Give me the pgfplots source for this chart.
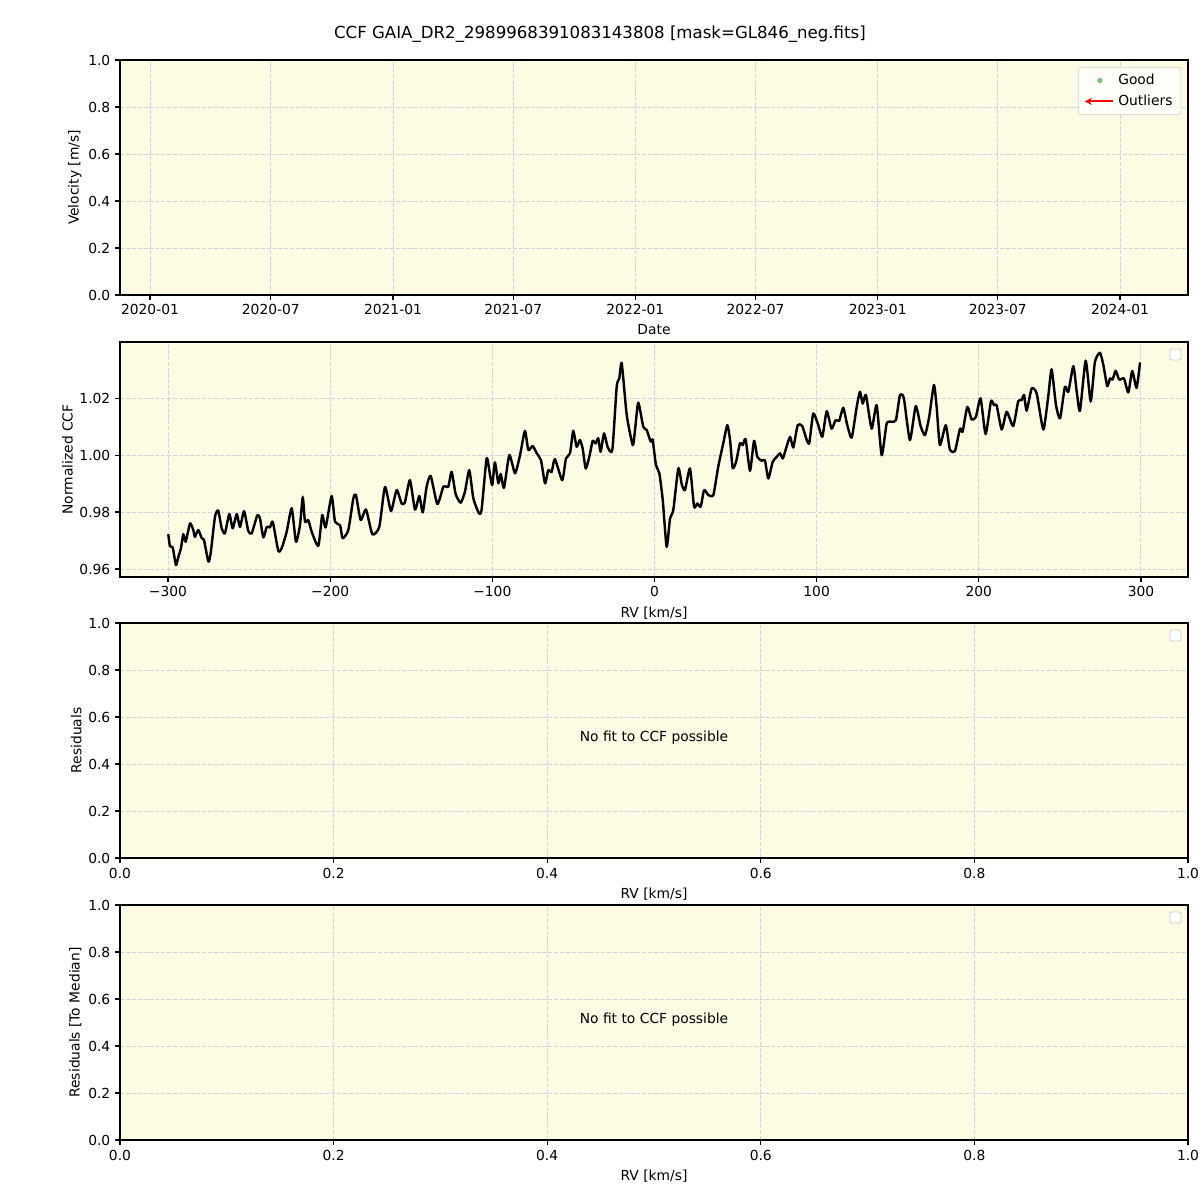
\documentclass[border=0pt]{standalone}
\usepackage{fontspec}
\setmainfont{DejaVu Sans}
\usepackage{pgfplots}
\usepackage{pgfplotstable}
\pgfplotsset{compat=1.18}
\usetikzlibrary{arrows.meta}
\definecolor{bgc}{RGB}{253,251,227}
\definecolor{gridc}{RGB}{210,210,216}
\definecolor{legc}{RGB}{204,204,204}
\definecolor{goodc}{RGB}{100,178,100}

\pgfplotstableread{
rv ccf
-299.8 0.9722
-298.8 0.9680
-297.1 0.9676
-295.1 0.9614
-293.6 0.9643
-292.0 0.9673
-290.6 0.9722
-289.1 0.9696
-286.4 0.9760
-284.4 0.9737
-283.4 0.9713
-281.3 0.9737
-279.2 0.9708
-277.8 0.9702
-275.1 0.9626
-273.7 0.9655
-271.0 0.9784
-269.0 0.9805
-266.9 0.9743
-264.9 0.9725
-262.2 0.9793
-260.1 0.9743
-257.6 0.9793
-255.6 0.9748
-253.1 0.9803
-250.5 0.9734
-248.4 0.9725
-244.9 0.9789
-243.3 0.9778
-241.2 0.9711
-239.1 0.9748
-237.1 0.9746
-235.4 0.9766
-232.0 0.9664
-229.9 0.9673
-226.8 0.9731
-223.7 0.9813
-221.1 0.9696
-218.6 0.9754
-216.9 0.9852
-215.5 0.9766
-213.5 0.9772
-211.4 0.9731
-207.3 0.9681
-204.9 0.9789
-202.8 0.9746
-199.1 0.9856
-197.0 0.9766
-193.9 0.9754
-192.3 0.9708
-188.8 0.9737
-185.7 0.9848
-184.1 0.9860
-181.2 0.9772
-177.9 0.9809
-174.0 0.9722
-169.7 0.9748
-166.2 0.9888
-162.5 0.9804
-159.0 0.9877
-155.9 0.9830
-153.9 0.9834
-150.8 0.9912
-147.7 0.9809
-145.0 0.9856
-142.9 0.9799
-140.5 0.9889
-138.0 0.9927
-133.9 0.9828
-130.2 0.9889
-127.2 0.9889
-125.1 0.9941
-122.6 0.9863
-119.5 0.9833
-116.9 0.9871
-114.2 0.9947
-111.7 0.9848
-108.2 0.9795
-106.6 0.9809
-103.5 0.9988
-101.4 0.9930
-100.0 0.9895
-98.4 0.9974
-96.3 0.9901
-94.8 0.9933
-92.8 0.9885
-89.5 1.0000
-86.0 0.9936
-82.9 1.0000
-79.9 1.0085
-77.8 1.0018
-75.1 1.0032
-72.6 1.0006
-70.0 0.9982
-67.5 0.9901
-65.5 0.9947
-63.4 0.9941
-61.4 0.9986
-56.9 0.9912
-54.6 0.9988
-52.1 1.0006
-50.1 1.0085
-48.0 1.0029
-46.0 1.0053
-44.3 1.0023
-42.4 0.9953
-40.2 0.9994
-38.1 1.0050
-36.3 1.0041
-34.7 1.0059
-33.2 1.0012
-31.1 1.0076
-28.9 1.0029
-26.0 1.0018
-23.3 1.0240
-21.7 1.0269
-20.2 1.0322
-17.1 1.0140
-13.4 1.0035
-12.0 1.0088
-10.0 1.0184
-6.9 1.0099
-4.8 1.0088
-2.3 1.0047
-1.1 1.0053
0.9 0.9965
3.0 0.9936
5.1 0.9842
7.5 0.9678
9.6 0.9778
11.6 0.9807
14.7 0.9953
16.8 0.9898
18.8 0.9877
21.9 0.9953
24.4 0.9819
26.4 0.9830
28.5 0.9819
30.6 0.9877
33.2 0.9860
36.3 0.9860
39.3 0.9959
42.4 1.0041
44.9 1.0105
46.6 1.0053
48.2 0.9955
50.3 0.9976
52.7 1.0041
54.4 1.0035
56.2 1.0056
58.9 0.9945
61.4 1.0050
63.4 0.9994
66.1 0.9980
68.1 0.9982
70.2 0.9918
72.9 0.9976
75.4 0.9994
77.4 1.0006
79.1 0.9988
81.1 1.0023
83.6 1.0064
85.6 1.0027
88.3 1.0105
91.1 1.0102
93.9 1.0053
95.5 1.0043
97.9 1.0146
101.0 1.0105
103.5 1.0064
106.2 1.0154
109.2 1.0093
111.7 1.0123
113.9 1.0120
116.4 1.0166
118.9 1.0105
121.6 1.0061
124.7 1.0169
126.7 1.0222
128.4 1.0181
130.4 1.0211
133.9 1.0093
137.0 1.0175
140.1 1.0000
143.2 1.0111
146.3 1.0117
148.9 1.0123
151.4 1.0211
153.8 1.0199
157.5 1.0053
161.1 1.0172
164.1 1.0102
166.8 1.0070
169.4 1.0134
172.3 1.0246
174.0 1.0169
176.0 1.0035
179.6 1.0105
182.2 1.0018
185.3 1.0014
188.4 1.0093
190.0 1.0082
192.9 1.0169
195.6 1.0125
198.2 1.0134
201.1 1.0199
204.2 1.0074
207.5 1.0189
209.4 1.0175
211.0 1.0175
214.1 1.0090
217.2 1.0152
221.2 1.0102
224.3 1.0189
226.4 1.0193
227.9 1.0211
229.5 1.0156
232.6 1.0234
235.7 1.0216
239.8 1.0090
242.8 1.0205
244.9 1.0301
247.6 1.0175
250.1 1.0129
253.1 1.0240
255.2 1.0222
258.3 1.0312
260.4 1.0222
262.4 1.0156
265.9 1.0331
269.0 1.0189
271.6 1.0327
274.7 1.0359
276.8 1.0316
279.2 1.0242
280.9 1.0269
282.5 1.0265
284.4 1.0296
286.6 1.0265
289.5 1.0269
292.2 1.0220
294.6 1.0295
297.3 1.0236
299.4 1.0325
}\ccfdata

\pgfplotsset{
  panel/.style={
    scale only axis, width=771.84pt, height=169.83pt, anchor=south west,
    axis background/.style={fill=bgc},
    grid=major,
    major grid style={gridc, line width=0.7pt, dash pattern=on 2.96pt off 1.28pt},
    tick align=outside, major tick length=3.5pt,
    tick style={black, line width=0.8pt},
    xtick pos=bottom, ytick pos=left,
    axis line style={line width=0.8pt},
    /pgf/number format/assume math mode=true,
    font=\fontsize{10}{12}\selectfont,
    tick label style={font=\fontsize{10}{12}\selectfont},
    label style={font=\fontsize{10}{12}\selectfont},
    ylabel style={yshift=-2pt},
  },
}

\begin{document}
\begin{tikzpicture}
\useasboundingbox (0pt,0pt) rectangle (867.24pt,867.24pt);
\node[font=\fontsize{12}{14}\selectfont] at (433.62pt,842.7pt) {CCF GAIA\_DR2\_2989968391083143808 [mask=GL846\_neg.fits]};

% Panel 1
\begin{axis}[panel, at={(86.72pt,654.04pt)},
  xmin=-45.2, xmax=1563.4, ymin=0, ymax=1,
  xtick={0,182,366,547,731,912,1096,1277,1461},
  xticklabels={2020-01,2020-07,2021-01,2021-07,2022-01,2022-07,2023-01,2023-07,2024-01},
  ytick={0,0.2,0.4,0.6,0.8,1.0},
  yticklabel style={/pgf/number format/.cd,fixed,fixed zerofill,precision=1},
  xlabel={Date}, ylabel={Velocity [m/s]},
  legend style={at={(0.9935,0.97)}, anchor=north east, draw=legc, rounded corners=2pt,
    fill=white, fill opacity=0.8, text opacity=1, font=\fontsize{10}{12}\selectfont,
    row sep=2pt, inner xsep=4pt, inner ysep=3pt},
  legend cell align=left,
]
\addlegendimage{legend image code/.code={\path[draw=none,fill=none] (0cm,0cm) -- (0.78cm,0cm); \fill[goodc] (0.38cm,0cm) circle (1.6pt);}}
\addlegendentry{Good}
\addlegendimage{legend image code/.code={\path[draw=none,fill=none] (0cm,0cm) -- (0.78cm,0cm); \draw[red, line width=1.5pt, -{Stealth[length=5pt,width=5pt]}] (0.72cm,0cm) -- (0cm,0cm);}}
\addlegendentry{Outliers}
\end{axis}

% Panel 2
\begin{axis}[panel, at={(86.72pt,450.24pt)},
  xmin=-329.6, xmax=329, ymin=0.9572, ymax=1.0397,
  xtick={-300,-200,-100,0,100,200,300},
  xticklabels={−300,−200,−100,0,100,200,300},
  ytick={0.96,0.98,1.00,1.02},
  yticklabel style={/pgf/number format/.cd,fixed,fixed zerofill,precision=2},
  xlabel={RV [km/s]}, ylabel={Normalized CCF},
]
\addplot[red!85!black, line width=0.8pt, smooth, tension=0.35] table[x=rv,y=ccf]{\ccfdata};
\addplot[black, line width=1.75pt, line join=round, smooth, tension=0.35] table[x=rv,y=ccf]{\ccfdata};
\draw[legc, rounded corners=1.5pt, fill=white, line width=0.6pt] (rel axis cs:1,1) ++(-13pt,-13pt) rectangle ++(7.95pt,7.95pt);
\end{axis}

% Panel 3
\begin{axis}[panel, at={(86.72pt,247.16pt)},
  xmin=0, xmax=1, ymin=0, ymax=1,
  xtick={0,0.2,0.4,0.6,0.8,1.0}, ytick={0,0.2,0.4,0.6,0.8,1.0},
  ticklabel style={/pgf/number format/.cd,fixed,fixed zerofill,precision=1},
  xlabel={RV [km/s]}, ylabel={Residuals},
]
\node at (axis cs:0.5,0.51) {No fit to CCF possible};
\draw[legc, rounded corners=1.5pt, fill=white, line width=0.6pt] (rel axis cs:1,1) ++(-13pt,-13pt) rectangle ++(7.95pt,7.95pt);
\end{axis}

% Panel 4
\begin{axis}[panel, at={(86.72pt,43.36pt)},
  xmin=0, xmax=1, ymin=0, ymax=1,
  xtick={0,0.2,0.4,0.6,0.8,1.0}, ytick={0,0.2,0.4,0.6,0.8,1.0},
  ticklabel style={/pgf/number format/.cd,fixed,fixed zerofill,precision=1},
  xlabel={RV [km/s]}, ylabel={Residuals [To Median]},
]
\node at (axis cs:0.5,0.51) {No fit to CCF possible};
\draw[legc, rounded corners=1.5pt, fill=white, line width=0.6pt] (rel axis cs:1,1) ++(-13pt,-13pt) rectangle ++(7.95pt,7.95pt);
\end{axis}
\end{tikzpicture}
\end{document}
